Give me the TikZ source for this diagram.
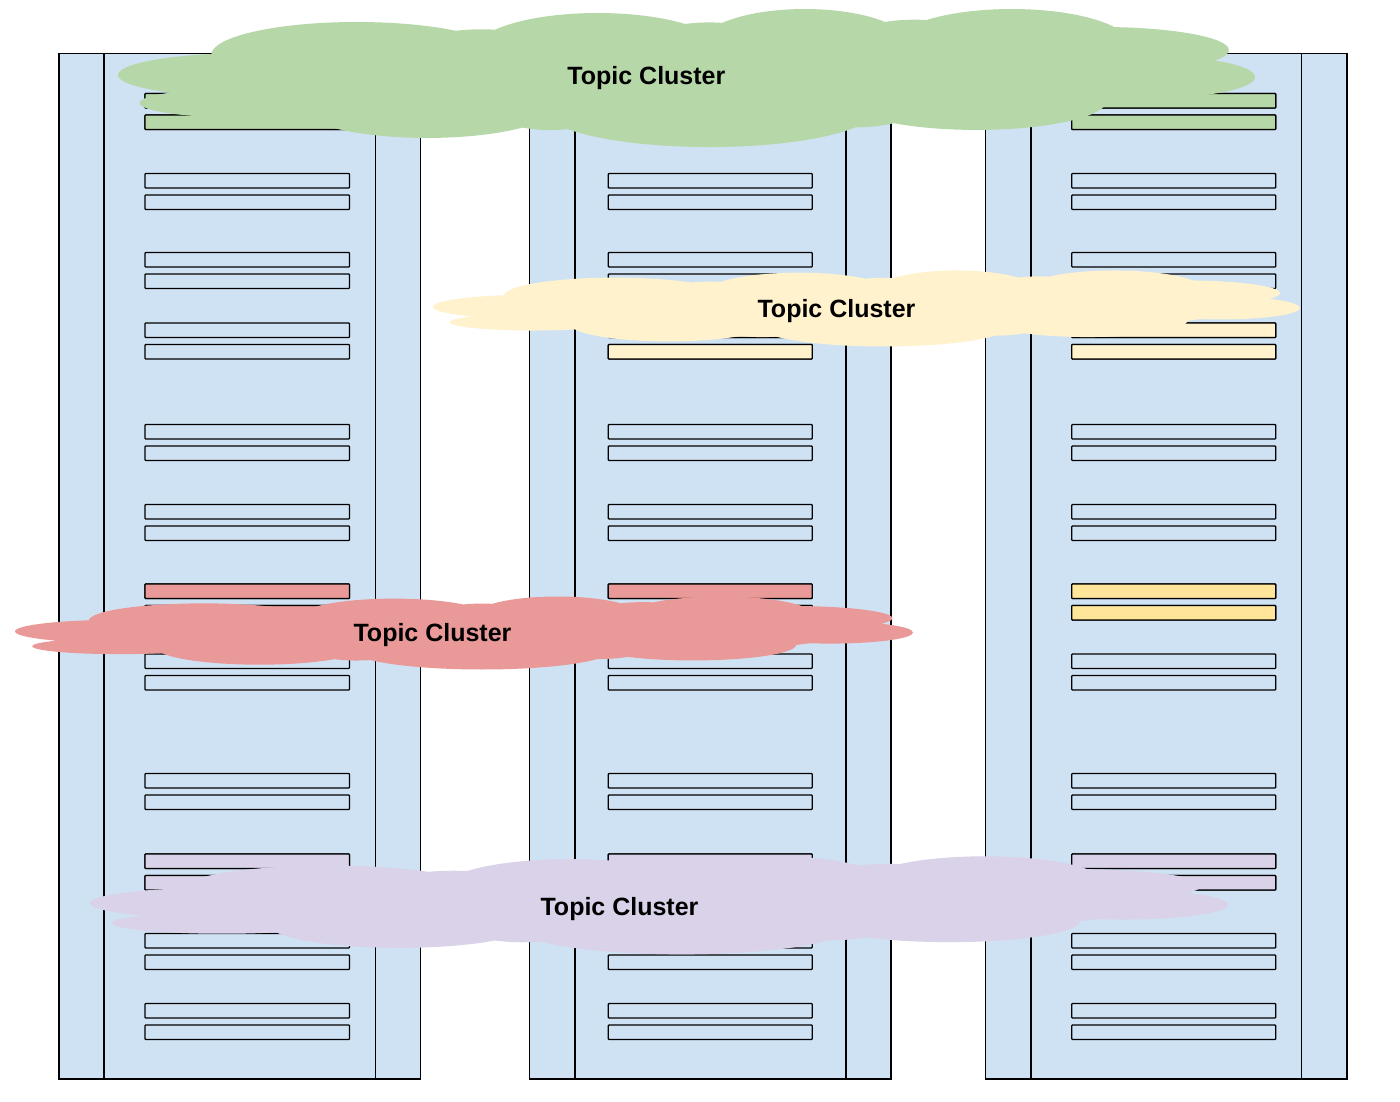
\documentclass[tikz,border=0pt]{standalone}
\usepackage{fontspec}
\setsansfont{Liberation Sans}
\definecolor{rackblue}{HTML}{CFE2F3}
\definecolor{cgreen}{HTML}{B6D7A8}
\definecolor{cyellow}{HTML}{FFF2CC}
\definecolor{cred}{HTML}{EA9999}
\definecolor{cpurple}{HTML}{D9D2E9}
\definecolor{byellow}{HTML}{FFE599}
\tikzset{
  rackline/.style={draw=black, line width=1.1pt},
  slotbar/.style={draw=black, line width=1.3pt, rounded corners=0.8pt, fill=rackblue},
  clusterlabel/.style={font=\sffamily\bfseries\fontsize{25}{30}\selectfont, inner sep=0pt, anchor=base, text=black}
}
% #1 left, #2 inner1, #3 inner2, #4 right, #5 bar left, #6 bar right
\newcommand{\rackunit}[6]{%
  \draw[rackline, fill=rackblue] (#1,53.5) rectangle (#4,1079);
  \draw[rackline] (#2,53.5) -- (#2,1079);
  \draw[rackline] (#3,53.5) -- (#3,1079);
  \foreach \t in {93.5,173.5,252.5,323,424.5,504.5,584,654,773.5,854,933.5,1003.5}{
    \draw[slotbar] (#5,\t) rectangle ({#6},{\t+14.5});
    \draw[slotbar] (#5,{\t+21.5}) rectangle ({#6},{\t+36});
  }%
}
% #1 bar left, #2 bar right, #3 top, #4 colour
\newcommand{\pairfill}[4]{%
  \draw[slotbar, fill=#4] (#1,#3) rectangle ({#2},{#3+14.5});
  \draw[slotbar, fill=#4] (#1,{#3+21.5}) rectangle ({#2},{#3+36});
}
% #1 x0, #2 y0, #3 W, #4 H, #5 colour
\newcommand{\cloudshape}[5]{%
  \begin{scope}[shift={(#1,#2)}, xscale=#3, yscale=#4]
    \fill[#5]
      (0.116,0.471) ellipse [x radius=0.116pt, y radius=0.159pt]
      (0.210,0.326) ellipse [x radius=0.128pt, y radius=0.239pt]
      (0.422,0.290) ellipse [x radius=0.108pt, y radius=0.268pt]
      (0.604,0.254) ellipse [x radius=0.092pt, y radius=0.261pt]
      (0.786,0.254) ellipse [x radius=0.104pt, y radius=0.261pt]
      (0.864,0.290) ellipse [x radius=0.113pt, y radius=0.167pt]
      (0.908,0.486) ellipse [x radius=0.092pt, y radius=0.152pt]
      (0.755,0.652) ellipse [x radius=0.115pt, y radius=0.217pt]
      (0.520,0.725) ellipse [x radius=0.145pt, y radius=0.268pt]
      (0.272,0.688) ellipse [x radius=0.115pt, y radius=0.239pt]
      (0.116,0.674) ellipse [x radius=0.097pt, y radius=0.109pt]
      (0.500,0.500) ellipse [x radius=0.420pt, y radius=0.330pt]
      (0.320,0.400) ellipse [x radius=0.080pt, y radius=0.260pt]
      (0.520,0.340) ellipse [x radius=0.070pt, y radius=0.250pt]
      (0.700,0.320) ellipse [x radius=0.070pt, y radius=0.250pt]
      (0.650,0.580) ellipse [x radius=0.070pt, y radius=0.270pt]
      (0.380,0.580) ellipse [x radius=0.070pt, y radius=0.290pt];
  \end{scope}%
}
\begin{document}
\begin{tikzpicture}[x=1pt, y=-1pt]
  \useasboundingbox (0,0) rectangle (1400,1101);
  \fill[white] (0,0) rectangle (1400,1101);

  % racks
  \rackunit{59}{104}{375.5}{420.5}{145}{349.5}
  \rackunit{529.5}{575}{846}{891}{608.3}{812.3}
  \rackunit{985.5}{1031}{1301.7}{1347}{1071.7}{1275.7}

  % coloured partitions
  \pairfill{145}{349.5}{93.5}{cgreen}
  \pairfill{608.3}{812.3}{93.5}{cgreen}
  \pairfill{1071.7}{1275.7}{93.5}{cgreen}

  \pairfill{608.3}{812.3}{323}{cyellow}
  \pairfill{1071.7}{1275.7}{323}{cyellow}

  \pairfill{145}{349.5}{584}{cred}
  \pairfill{608.3}{812.3}{584}{cred}
  \pairfill{1071.7}{1275.7}{584}{byellow}

  \pairfill{145}{349.5}{854}{cpurple}
  \pairfill{608.3}{812.3}{854}{cpurple}
  \pairfill{1071.7}{1275.7}{854}{cpurple}

  % clouds
  \cloudshape{118}{10}{1137}{138}{cgreen}
  \node[clusterlabel] (greenlabel) at (646.4,84.3) {Topic Cluster};

  \cloudshape{433}{271}{867}{76}{cyellow}
  \node[clusterlabel] (yellowlabel) at (836.5,317) {Topic Cluster};

  \cloudshape{15}{597}{898}{73}{cred}
  \node[clusterlabel] (redlabel) at (432.5,641) {Topic Cluster};

  \cloudshape{90}{857}{1138}{98}{cpurple}
  \node[clusterlabel] (purplelabel) at (619.5,915) {Topic Cluster};
\end{tikzpicture}
\end{document}
